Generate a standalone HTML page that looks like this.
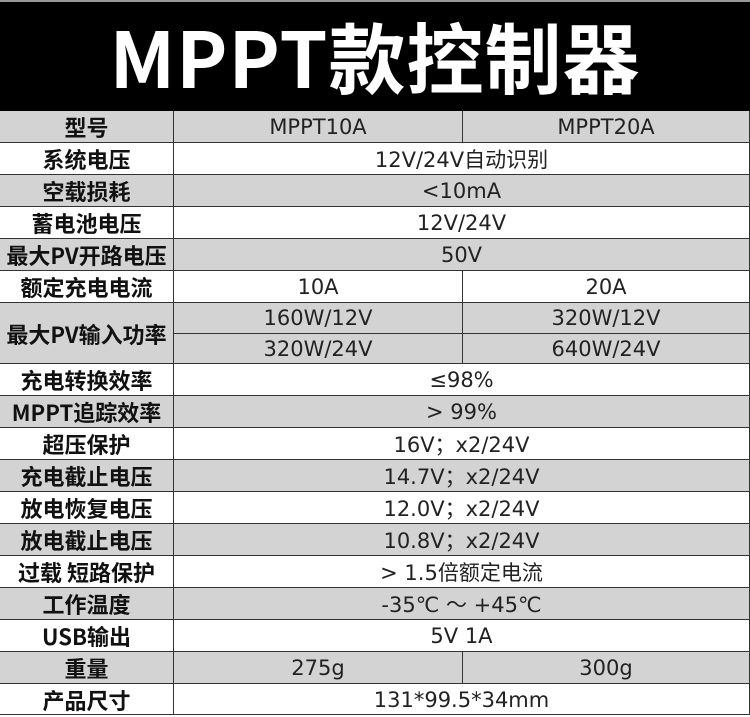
<!DOCTYPE html>
<html><head><meta charset="utf-8"><style>
*{margin:0;padding:0;box-sizing:border-box}
body{width:750px;height:717px;background:#fff;position:relative;overflow:hidden;font-family:"DejaVu Sans","Noto Sans CJK SC",sans-serif}
#t{position:absolute;left:0;top:0;width:750px;height:111px;background:#000;border-top:2px solid #999;color:#fff;font-family:"Noto Sans CJK SC",sans-serif;font-weight:bold;font-size:77px;line-height:107px;text-align:center;letter-spacing:1px}
.c{position:absolute;display:flex;align-items:center;justify-content:center;font-family:"DejaVu Sans","Noto Sans CJK SC",sans-serif;font-size:21px;color:#222;white-space:nowrap}
.h{font-family:"Noto Sans CJK SC",sans-serif;font-weight:bold;color:#111;font-size:22px}
.g{background:#d3d3d3}
.l{position:absolute;background:#333}
</style></head><body>
<div id="t">MPPT款控制器</div>
<div id="tb"></div>
<script>
const rows=[
["型号",["MPPT10A","MPPT20A"]],
["系统电压",["12V/24V自动识别"]],
["空载损耗",["<10mA"]],
["蓄电池电压",["12V/24V"]],
["最大PV开路电压",["50V"]],
["额定充电电流",["10A","20A"]],
["最大PV输入功率","split"],
["充电转换效率",["≤98%"]],
["MPPT追踪效率",["> 99%"]],
["超压保护",["16V；x2/24V"]],
["充电截止电压",["14.7V；x2/24V"]],
["放电恢复电压",["12.0V；x2/24V"]],
["放电截止电压",["10.8V；x2/24V"]],
["过载 短路保护",["> 1.5倍额定电流"]],
["工作温度",["-35℃ ～ +45℃"]],
["USB输出",["5V 1A"]],
["重量",["275g","300g"]],
["产品尺寸",["131*99.5*34mm"]]];
let y=111,h='',L='';const H=[32,32,32,32,32,32,61,32,32,32,32,32,32,32,32,32,32,31];
function cell(x,yy,w,hh,txt,cls){return `<div class="c ${cls}" style="left:${x}px;top:${yy}px;width:${w}px;height:${hh}px">${txt.replace(/</g,'&lt;')}</div>`}
function hl(x,yy,w){L+=`<div class="l" style="left:${x}px;top:${yy}px;width:${w}px;height:1px"></div>`}
function vl(x,yy,hh){L+=`<div class="l" style="left:${x}px;top:${yy}px;width:1px;height:${hh}px"></div>`}
rows.forEach((r,i)=>{const g=i%2==0?'g':'';const hh=H[i];
h+=cell(0,y,173,hh,r[0],'h '+g);
vl(173,y,hh);vl(749,y,hh);
if(r[1]==='split'){const a=30,b=hh-30;
h+=cell(174,y,288,a,'160W/12V',g)+cell(463,y,286,a,'320W/12V',g)+cell(174,y+a,288,b,'320W/24V',g)+cell(463,y+a,286,b,'640W/24V',g);
vl(462,y,hh);hl(174,y+a,576);}
else if(r[1].length==2){h+=cell(174,y,288,hh,r[1][0],g)+cell(463,y,286,hh,r[1][1],g);vl(462,y,hh);}
else h+=cell(174,y,575,hh,r[1][0],g);
y+=hh;hl(0,y-1,750);});
document.getElementById('tb').innerHTML=h+L;
</script>
</body></html>
